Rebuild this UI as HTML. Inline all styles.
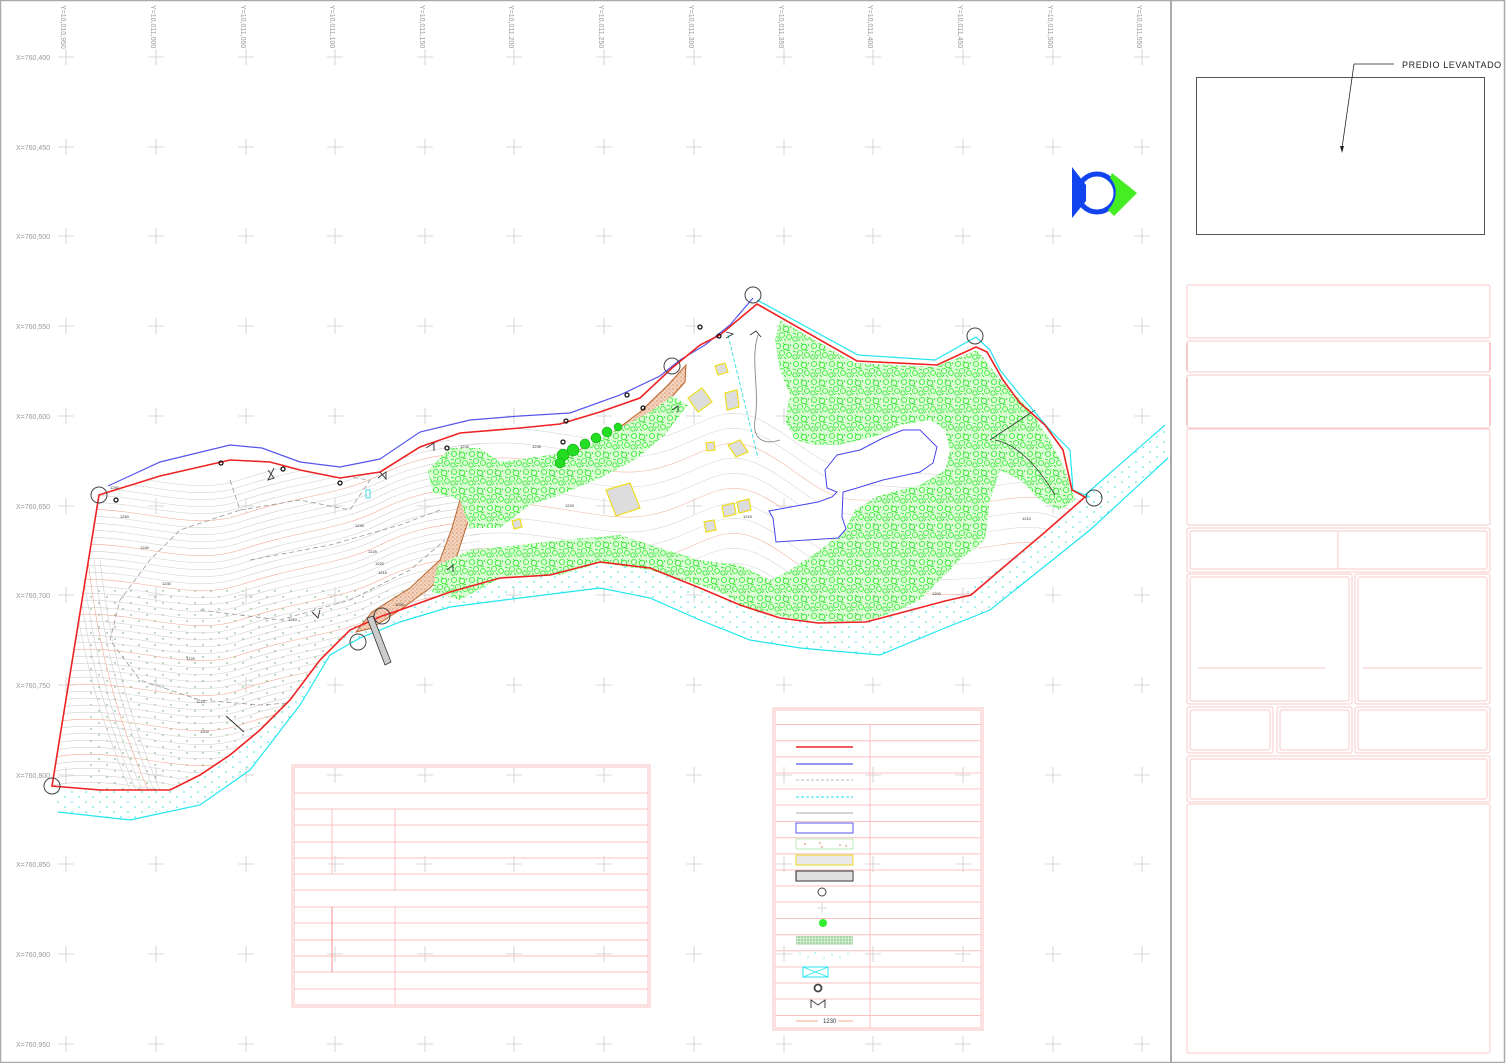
<!DOCTYPE html>
<html><head><meta charset="utf-8"><style>
html,body{margin:0;padding:0;background:#fff}
svg{display:block}
text{font-family:"Liberation Sans",sans-serif}
</style></head><body>
<svg width="1506" height="1063" viewBox="0 0 1506 1063" xmlns="http://www.w3.org/2000/svg">
<defs>
<pattern id="tree" width="18" height="18" patternUnits="userSpaceOnUse">
<rect width="18" height="18" fill="#dcfcd6"/>
<circle cx="4" cy="4" r="2.6" fill="none" stroke="#3cf03c" stroke-width="0.9"/>
<circle cx="12" cy="5" r="2.8" fill="none" stroke="#2ee62e" stroke-width="0.9"/>
<circle cx="8" cy="11" r="2.6" fill="none" stroke="#44f044" stroke-width="0.9"/>
<circle cx="15" cy="13" r="2.4" fill="none" stroke="#33ee33" stroke-width="0.9"/>
<circle cx="3" cy="15" r="2.2" fill="none" stroke="#3ae83a" stroke-width="0.9"/>
<path d="M1 9l3 1M9 1l2 2M13 9l3-1M6 17l2-2M16 2l1 2M10 15l2 2" stroke="#22dd22" stroke-width="0.8"/>
</pattern>
<pattern id="hatch" width="4" height="4" patternUnits="userSpaceOnUse">
<rect width="4" height="4" fill="#f3d2bd"/>
<circle cx="1" cy="1" r="0.6" fill="#c8703c"/>
<circle cx="3" cy="3" r="0.5" fill="#d88a5a"/>
</pattern>
<pattern id="cdots" width="14" height="10" patternUnits="userSpaceOnUse">
<circle cx="2" cy="2" r="0.8" fill="#33dddd"/>
<circle cx="9" cy="7" r="0.8" fill="#33dddd"/>
</pattern>
<pattern id="gdots" width="16" height="12" patternUnits="userSpaceOnUse">
<circle cx="3" cy="3" r="0.7" fill="#3a9a3a"/>
<circle cx="11" cy="9" r="0.7" fill="#3a9a3a"/>
</pattern>
<pattern id="stip" width="3" height="3" patternUnits="userSpaceOnUse">
<rect width="3" height="3" fill="#d0ecd0"/><circle cx="1" cy="1" r="0.6" fill="#3a9a3a"/>
</pattern>
<pattern id="bhat" width="2" height="4" patternUnits="userSpaceOnUse">
<rect width="2" height="4" fill="#fff"/><line x1="1" y1="0" x2="1" y2="4" stroke="#999" stroke-width="0.6"/>
</pattern>
<clipPath id="prop">
<path d="M52,786 L99,495 L160,476 L230,460 L270,462 L300,470 L340,478 L380,472 L420,447 L460,433 L520,428 L560,424 L600,412 L640,398 L672,368 L700,345 L720,335 L757,304 L857,361 L937,365 L976,347 L987,352 L1003,380 L1020,403 L1045,425 L1063,450 L1072,490 L1085,497 L1044,533 L1012,560 L971,595 L945,601 L900,613 L866,622 L818,623 L780,618 L740,605 L700,588 L650,568 L600,562 L550,575 L500,578 L450,592 L400,610 L382,616 L350,630 L320,660 L290,700 L260,730 L230,755 L200,775 L170,790 L100,790 Z"/>
</clipPath>
<clipPath id="leftc"><rect x="40" y="440" width="440" height="360"/></clipPath>
</defs>

<rect x="0.5" y="0.5" width="1504" height="1062" fill="none" stroke="#aaa" stroke-width="1.5"/>
<line x1="1171" y1="0" x2="1171" y2="1063" stroke="#aaa" stroke-width="2"/>

<g stroke="#ccc" stroke-width="0.8" id="grid">
<path d="M58,57h16M66,49v16M148,57h16M156,49v16M238,57h16M246,49v16M327,57h16M335,49v16M417,57h16M425,49v16M506,57h16M514,49v16M596,57h16M604,49v16M686,57h16M694,49v16M776,57h16M784,49v16M865,57h16M873,49v16M955,57h16M963,49v16M1045,57h16M1053,49v16M1134,57h16M1142,49v16"/>
</g>
<use href="#grid" y="90"/><use href="#grid" y="179"/><use href="#grid" y="269"/><use href="#grid" y="359"/><use href="#grid" y="449"/><use href="#grid" y="538"/><use href="#grid" y="628"/><use href="#grid" y="718"/><use href="#grid" y="807"/><use href="#grid" y="897"/><use href="#grid" y="987"/>

<g font-size="7" fill="#999">
<text x="16" y="60">X=760,400</text><text x="16" y="150">X=760,450</text><text x="16" y="239">X=760,500</text><text x="16" y="329">X=760,550</text><text x="16" y="419">X=760,600</text><text x="16" y="509">X=760,650</text><text x="16" y="598">X=760,700</text><text x="16" y="688">X=760,750</text><text x="16" y="778">X=760,800</text><text x="16" y="867">X=760,850</text><text x="16" y="957">X=760,900</text><text x="16" y="1047">X=760,950</text>
</g>
<g font-size="7" fill="#999">
<text transform="translate(61,5) rotate(90)">Y=10,010,950</text>
<text transform="translate(151,5) rotate(90)">Y=10,011,000</text>
<text transform="translate(241,5) rotate(90)">Y=10,011,050</text>
<text transform="translate(330,5) rotate(90)">Y=10,011,100</text>
<text transform="translate(420,5) rotate(90)">Y=10,011,150</text>
<text transform="translate(509,5) rotate(90)">Y=10,011,200</text>
<text transform="translate(599,5) rotate(90)">Y=10,011,250</text>
<text transform="translate(689,5) rotate(90)">Y=10,011,300</text>
<text transform="translate(779,5) rotate(90)">Y=10,011,350</text>
<text transform="translate(868,5) rotate(90)">Y=10,011,400</text>
<text transform="translate(958,5) rotate(90)">Y=10,011,450</text>
<text transform="translate(1048,5) rotate(90)">Y=10,011,500</text>
<text transform="translate(1137,5) rotate(90)">Y=10,011,550</text>
</g>

<path d="M52,786 L100,790 L170,790 L200,775 L230,755 L260,730 L290,700 L320,660 L350,630 L382,616 L450,592 L550,575 L600,562 L650,568 L700,588 L780,618 L866,622 L945,601 L1012,560 L1085,497 L1165,425 L1168,458 L1090,530 L990,610 L940,630 L880,655 L800,648 L750,640 L700,620 L650,598 L600,588 L520,598 L450,607 L400,622 L360,638 L330,655 L300,705 L250,770 L200,805 L130,820 L58,812 Z" fill="url(#cdots)"/>
<path d="M58,812 L130,820 L200,805 L250,770 L300,705 L330,655 L360,638 L400,622 L450,607 L520,598 L600,588 L650,598 L700,620 L750,640 L800,648 L880,655 L940,630 L990,610 L1090,530 L1168,458" fill="none" stroke="#22e6f0" stroke-width="1.2"/>
<path d="M1085,495 L1165,425" stroke="#22e6f0" stroke-width="1.2"/>

<g clip-path="url(#prop)">
<rect x="90" y="590" width="320" height="200" fill="url(#gdots)" opacity="0.9"/>
<g clip-path="url(#leftc)" fill="none" stroke="#cfcfcf" stroke-width="0.6">
<path id="cA" d="M40,480 C120,460 180,500 240,480 S340,460 380,440 S450,420 480,415"/>
<use href="#cA" y="7"/><use href="#cA" y="14"/><use href="#cA" y="21"/><use href="#cA" y="28"/><use href="#cA" y="35" stroke="#f0a890"/><use href="#cA" y="42"/><use href="#cA" y="49"/><use href="#cA" y="56"/><use href="#cA" y="63"/><use href="#cA" y="70" stroke="#f0a890"/><use href="#cA" y="77"/><use href="#cA" y="84"/><use href="#cA" y="91"/><use href="#cA" y="98"/><use href="#cA" y="105" stroke="#f0a890"/><use href="#cA" y="112"/><use href="#cA" y="119"/><use href="#cA" y="126"/><use href="#cA" y="133"/><use href="#cA" y="140" stroke="#f0a890"/><use href="#cA" y="147"/><use href="#cA" y="154"/><use href="#cA" y="161"/><use href="#cA" y="168"/><use href="#cA" y="175" stroke="#f0a890"/><use href="#cA" y="182"/><use href="#cA" y="189"/><use href="#cA" y="196"/><use href="#cA" y="203"/><use href="#cA" y="210" stroke="#f0a890"/><use href="#cA" y="217"/><use href="#cA" y="224"/><use href="#cA" y="231"/><use href="#cA" y="238"/><use href="#cA" y="245" stroke="#f0a890"/><use href="#cA" y="252"/><use href="#cA" y="259"/><use href="#cA" y="266"/><use href="#cA" y="273"/><use href="#cA" y="280" stroke="#f0a890"/><use href="#cA" y="287"/><use href="#cA" y="294"/><use href="#cA" y="301"/><use href="#cA" y="308"/><use href="#cA" y="315" stroke="#f0a890"/><use href="#cA" y="322"/><use href="#cA" y="329"/><use href="#cA" y="336"/><use href="#cA" y="343"/><use href="#cA" y="350" stroke="#f0a890"/><use href="#cA" y="357"/><use href="#cA" y="364"/><use href="#cA" y="371"/>
<path id="cB" d="M70,560 C80,650 100,720 130,790"/>
<use href="#cB" x="6"/><use href="#cB" x="12"/><use href="#cB" x="18" stroke="#f0a890"/><use href="#cB" x="24"/><use href="#cB" x="30"/>
</g>
<g fill="none" stroke="#d8d8d8" stroke-width="0.6">
<path id="cC" d="M470,430 C540,420 600,450 650,440 S720,400 760,420 S820,470 860,470 S940,480 1000,470 S1060,480 1090,490"/>
<use href="#cC" y="15"/><use href="#cC" y="30" stroke="#f2b8a4"/><use href="#cC" y="45"/><use href="#cC" y="60"/><use href="#cC" y="75" stroke="#f2b8a4"/><use href="#cC" y="90"/><use href="#cC" y="105"/><use href="#cC" y="120" stroke="#f2b8a4"/><use href="#cC" y="135"/><use href="#cC" y="150"/>
</g>
<g fill="none" stroke="#999" stroke-width="0.8" stroke-dasharray="5,3">
<path d="M230,480 L240,510 L180,530 L150,560 L120,600 L110,640 L140,680 L200,700 L260,705 L330,700 L380,690 L420,640"/>
<path d="M240,510 L300,500 L350,510 L370,480 L300,470"/>
<path d="M250,560 L330,545 L400,525 L440,510"/>
<path d="M200,610 L280,620 L350,600 L410,570 L445,540"/>
<path d="M280,770 L350,740 L420,700 L440,650"/>
</g>
</g>
<line x1="226" y1="716" x2="244" y2="732" stroke="#333" stroke-width="1"/>

<path d="M356,632 L372,612 L410,588 L440,560 L452,528 L460,500 L480,478 L540,465 L600,442 L640,412 L668,385 L686,365 L685,382 L660,410 L630,440 L600,460 L560,470 L500,485 L475,500 L462,540 L455,562 L430,588 L400,610 L372,628 Z" fill="url(#hatch)" stroke="#b8642a" stroke-width="1"/>

<g fill="url(#tree)" stroke="none">
<path d="M780,320 L855,363 L935,367 L977,350 L1005,385 L1030,410 L1050,440 L1065,470 L1075,500 L1060,510 L1040,500 L1020,480 L1000,470 L990,500 L985,540 L960,560 L940,580 L920,600 L895,612 L870,620 L840,622 L800,620 L760,612 L740,600 L760,585 L790,570 L820,550 L845,530 L855,510 L880,495 L920,485 L945,470 L950,450 L945,430 L930,420 L900,425 L880,435 L860,440 L840,445 L815,445 L795,440 L785,420 L790,395 L780,370 L775,340 Z"/>
<path d="M432,592 L438,565 L470,550 L520,545 L560,540 L620,535 L660,548 L700,560 L740,565 L770,580 L750,610 L720,592 L690,582 L650,570 L600,563 L560,575 L500,578 L460,600 Z"/>
<path d="M428,470 L450,448 L480,448 L500,462 L530,458 L580,450 L620,428 L650,412 L672,396 L688,405 L665,435 L635,460 L600,478 L560,495 L530,505 L500,528 L470,528 L460,500 L432,492 Z"/>
</g>
<g fill="#22dd22" stroke="#119911" stroke-width="0.5">
<circle cx="563" cy="455" r="6"/><circle cx="573" cy="450" r="6"/><circle cx="585" cy="444" r="5"/><circle cx="596" cy="438" r="5"/><circle cx="607" cy="432" r="5"/><circle cx="618" cy="427" r="4"/><circle cx="560" cy="463" r="5"/>
</g>

<g fill="#ddd" stroke="#eedd22" stroke-width="1.2">
<path d="M606,490 L630,483 L640,508 L616,516 Z"/>
<path d="M688,398 L702,388 L712,402 L698,412 Z"/>
<path d="M725,393 L737,390 L739,407 L727,410 Z"/>
<path d="M728,445 L740,440 L748,452 L736,457 Z"/>
<path d="M706,443 L714,442 L715,450 L707,451 Z"/>
<path d="M722,506 L734,503 L736,514 L724,517 Z"/>
<path d="M737,502 L749,499 L751,510 L739,513 Z"/>
<path d="M704,522 L714,520 L716,530 L706,532 Z"/>
<path d="M512,521 L520,519 L522,527 L514,529 Z"/>
<path d="M715,366 L725,363 L728,372 L718,375 Z"/>
</g>
<path d="M758,335 C750,360 760,390 755,420 C752,440 765,445 780,440" fill="none" stroke="#888" stroke-width="0.9"/>
<path d="M728,335 L758,458" stroke="#33dddd" stroke-width="0.9" stroke-dasharray="4,2"/>
<path d="M990,440 L1035,410 M995,440 C1020,445 1040,470 1055,495" fill="none" stroke="#333" stroke-width="0.8"/>

<path d="M769,511 L773,518 L776,542 L838,538 L846,529 L842,517 L843,492 L857,488 L883,480 L920,472 L933,463 L937,447 L920,430 L903,430 L883,438 L860,450 L837,455 L825,470 L827,488 L837,492 L832,497 L818,502 Z" fill="#fff" stroke="#4444ee" stroke-width="1"/>

<path d="M108,486 L160,462 L230,445 L262,448 L300,462 L340,467 L380,459 L420,432 L470,420 L520,416 L570,413 L620,395 L660,376 L680,360 L705,345 L730,325 L753,298" fill="none" stroke="#5555ee" stroke-width="1.2"/>
<path d="M757,300 L858,355 L935,360 L976,337 L990,350 L1000,370 L1020,395 L1050,430 L1070,450 L1073,490 L1090,497" fill="none" stroke="#22e6f0" stroke-width="1.2"/>
<path d="M52,786 L99,495 L160,476 L230,460 L270,462 L300,470 L340,478 L380,472 L420,447 L460,433 L520,428 L560,424 L600,412 L640,398 L672,368 L700,345 L720,335 L757,304 L857,361 L937,365 L976,347 L987,352 L1003,380 L1020,403 L1045,425 L1063,450 L1072,490 L1085,497 L1044,533 L1012,560 L971,595 L945,601 L900,613 L866,622 L818,623 L780,618 L740,605 L700,588 L650,568 L600,562 L550,575 L500,578 L450,592 L400,610 L382,616 L350,630 L320,660 L290,700 L260,730 L230,755 L200,775 L170,790 L100,790 Z" fill="none" stroke="#ee2222" stroke-width="1.6"/>

<g fill="none" stroke="#444" stroke-width="1">
<circle cx="99" cy="495" r="8"/><circle cx="52" cy="786" r="8"/><circle cx="753" cy="295" r="8"/><circle cx="672" cy="366" r="8"/><circle cx="975" cy="336" r="8"/><circle cx="1094" cy="498" r="8"/><circle cx="382" cy="616" r="8"/><circle cx="358" cy="642" r="8"/>
</g>
<g fill="none" stroke="#111" stroke-width="1.3">
<circle cx="116" cy="500" r="2"/><circle cx="221" cy="463" r="2"/><circle cx="283" cy="469" r="2"/><circle cx="340" cy="483" r="2"/><circle cx="447" cy="448" r="2"/><circle cx="563" cy="442" r="2"/><circle cx="566" cy="421" r="2"/><circle cx="627" cy="395" r="2"/><circle cx="643" cy="408" r="2"/><circle cx="700" cy="327" r="2"/><circle cx="719" cy="336" r="2"/>
</g>
<g fill="none" stroke="#333" stroke-width="0.9">
<path d="M268,470 L274,478 L268,480 L274,468"/><path d="M378,478 L386,472 L386,479 L380,472"/><path d="M426,448 L434,443 L434,451"/><path d="M312,612 L318,618 L320,610"/><path d="M447,570 L453,565 L453,572"/><path d="M672,410 L678,406 L678,412"/><path d="M726,332 L733,334 L726,338"/><path d="M750,335 L756,331 L761,337"/>
</g>
<rect x="366" y="490" width="4" height="8" fill="none" stroke="#22ccee" stroke-width="0.8"/>
<path d="M367,618 L373,616 L391,662 L385,665 Z" fill="#ccc" stroke="#333" stroke-width="0.8"/>

<g font-size="4" fill="#333">
<text x="110" y="489">1250</text><text x="120" y="518">1250</text><text x="140" y="549">1240</text><text x="162" y="585">1230</text><text x="186" y="660">1220</text><text x="196" y="703">1210</text><text x="200" y="733">1200</text><text x="288" y="621">1210</text><text x="355" y="527">1230</text><text x="368" y="553">1225</text><text x="375" y="565">1220</text><text x="378" y="574">1215</text><text x="395" y="606">1200</text><text x="565" y="507">1220</text><text x="743" y="518">1215</text><text x="1022" y="520">1210</text><text x="932" y="595">1200</text><text x="532" y="448">1235</text><text x="460" y="448">1235</text>
</g>

<path d="M1072,167 L1086,185 L1086,201 L1072,218 Z" fill="#1144ee"/>
<circle cx="1097" cy="193" r="19" fill="none" stroke="#1144ee" stroke-width="5"/>
<path d="M1112,173 L1137,193 L1114,216 L1108,210 C1118,200 1118,186 1110,178 Z" fill="#44ee22"/>

<rect x="1196.5" y="77.5" width="288" height="157" fill="none" stroke="#555" stroke-width="1"/>
<text x="1402" y="68" font-size="9" fill="#222" font-family="Liberation Mono, monospace" letter-spacing="0.6">PREDIO LEVANTADO</text>
<path d="M1394,64 L1354,64 L1342,148" fill="none" stroke="#222" stroke-width="0.8"/>
<path d="M1340,146 L1342,153 L1344,146 Z" fill="#222"/>

<g fill="none" stroke="#fbc8c8" stroke-width="1">
<rect x="1187" y="285" width="303" height="53" rx="2"/>
<rect x="1187" y="341" width="303" height="31" rx="2"/>
<rect x="1187" y="375" width="303" height="53" rx="2"/>
<rect x="1187" y="429" width="303" height="96" rx="2"/>
<rect x="1187" y="528" width="303" height="44" rx="2"/><rect x="1190" y="531" width="297" height="38" rx="2"/>
<line x1="1338" y1="531" x2="1338" y2="569"/>
<rect x="1187" y="574" width="165" height="130" rx="2"/><rect x="1190" y="577" width="159" height="124" rx="2"/>
<rect x="1355" y="574" width="135" height="130" rx="2"/><rect x="1358" y="577" width="129" height="124" rx="2"/>
<line x1="1198" y1="668" x2="1326" y2="668"/><line x1="1363" y1="668" x2="1482" y2="668"/>
<rect x="1187" y="707" width="86" height="46" rx="2"/><rect x="1190" y="710" width="80" height="40" rx="2"/>
<rect x="1277" y="707" width="75" height="46" rx="2"/><rect x="1280" y="710" width="69" height="40" rx="2"/>
<rect x="1355" y="707" width="135" height="46" rx="2"/><rect x="1358" y="710" width="129" height="40" rx="2"/>
<rect x="1187" y="756" width="303" height="46" rx="2"/><rect x="1190" y="759" width="297" height="40" rx="2"/>
<rect x="1187" y="804" width="303" height="249" rx="2"/>
</g>
<g stroke="#f8a0a0" stroke-width="1.2"><line x1="1187" y1="343" x2="1187" y2="370"/><line x1="1490" y1="343" x2="1490" y2="370"/><line x1="1187" y1="378" x2="1187" y2="425"/><line x1="1490" y1="378" x2="1490" y2="425"/></g>

<g fill="none" stroke="#fbc0c0" stroke-width="1">
<rect x="292" y="765" width="358" height="242"/>
<rect x="294" y="767" width="354" height="238"/>
<path d="M294,793H648M294,809H648M294,825H648M294,842H648M294,858H648M294,874H648M294,890H648M294,907H648M294,923H648M294,940H648M294,956H648M294,972H648M294,989H648"/>
<path d="M332,809V874M395,809V890M395,907V1005"/>
<path d="M332,907V972" stroke="#f09090"/>
</g>

<g fill="none" stroke="#fbc0c0" stroke-width="1">
<rect x="773" y="708" width="210" height="322"/>
<rect x="775" y="710" width="206" height="318"/>
<path d="M775,724.5H981M775,740.7H981M775,756.9H981M775,773H981M775,789H981M775,805H981M775,821.5H981M775,837.7H981M775,853.9H981M775,870H981M775,886H981M775,902H981M775,918.5H981M775,934.7H981M775,950.8H981M775,967H981M775,983H981M775,999H981M775,1015.5H981"/>
<path d="M870,724.5V1028"/>
</g>
<line x1="796" y1="747" x2="853" y2="747" stroke="#ee2222" stroke-width="1.5"/>
<line x1="796" y1="764" x2="853" y2="764" stroke="#5555ee" stroke-width="1.2"/>
<line x1="796" y1="780" x2="853" y2="780" stroke="#bbb" stroke-width="1" stroke-dasharray="3,2"/>
<line x1="796" y1="797" x2="853" y2="797" stroke="#22e6f0" stroke-width="1" stroke-dasharray="3,2"/>
<line x1="796" y1="813" x2="853" y2="813" stroke="#aaa" stroke-width="1"/>
<rect x="796" y="823" width="57" height="10" fill="none" stroke="#5555ee"/>
<rect x="796" y="839" width="57" height="10" fill="none" stroke="#bbeebb"/>
<g fill="#e49a70"><circle cx="805" cy="844" r="0.9"/><circle cx="820" cy="843" r="0.9"/><circle cx="822" cy="847" r="0.9"/><circle cx="840" cy="845" r="0.9"/><circle cx="846" cy="846" r="0.9"/></g>
<rect x="796" y="855" width="57" height="10" fill="#e8e8e8" stroke="#eedd22"/>
<rect x="796" y="871" width="57" height="10" fill="url(#bhat)" stroke="#333"/>
<circle cx="822" cy="892" r="4" fill="none" stroke="#444"/>
<path d="M817,908h10M822,903v10" stroke="#ccc" stroke-width="0.8"/>
<circle cx="823" cy="923" r="4" fill="#33ee33"/>
<rect x="796" y="936" width="57" height="9" fill="url(#stip)"/>
<g fill="#66eeee"><circle cx="800" cy="954" r="0.7"/><circle cx="808" cy="957" r="0.7"/><circle cx="815" cy="953" r="0.7"/><circle cx="824" cy="958" r="0.7"/><circle cx="832" cy="955" r="0.7"/><circle cx="840" cy="957" r="0.7"/><circle cx="848" cy="954" r="0.7"/></g>
<rect x="803" y="967" width="25" height="10" fill="none" stroke="#22e6f0"/>
<path d="M803,967L828,977M828,967L803,977" stroke="#22e6f0" stroke-width="0.8"/>
<circle cx="818" cy="988" r="3.5" fill="none" stroke="#444" stroke-width="1.8"/>
<path d="M811,1008V1000L818,1005L825,1000V1008" fill="none" stroke="#333" stroke-width="0.9"/>
<line x1="796" y1="1021" x2="818" y2="1021" stroke="#f0a890"/><line x1="838" y1="1021" x2="853" y2="1021" stroke="#f0a890"/>
<text x="823" y="1023" font-size="6" fill="#333">1230</text>
</svg>
</body></html>
